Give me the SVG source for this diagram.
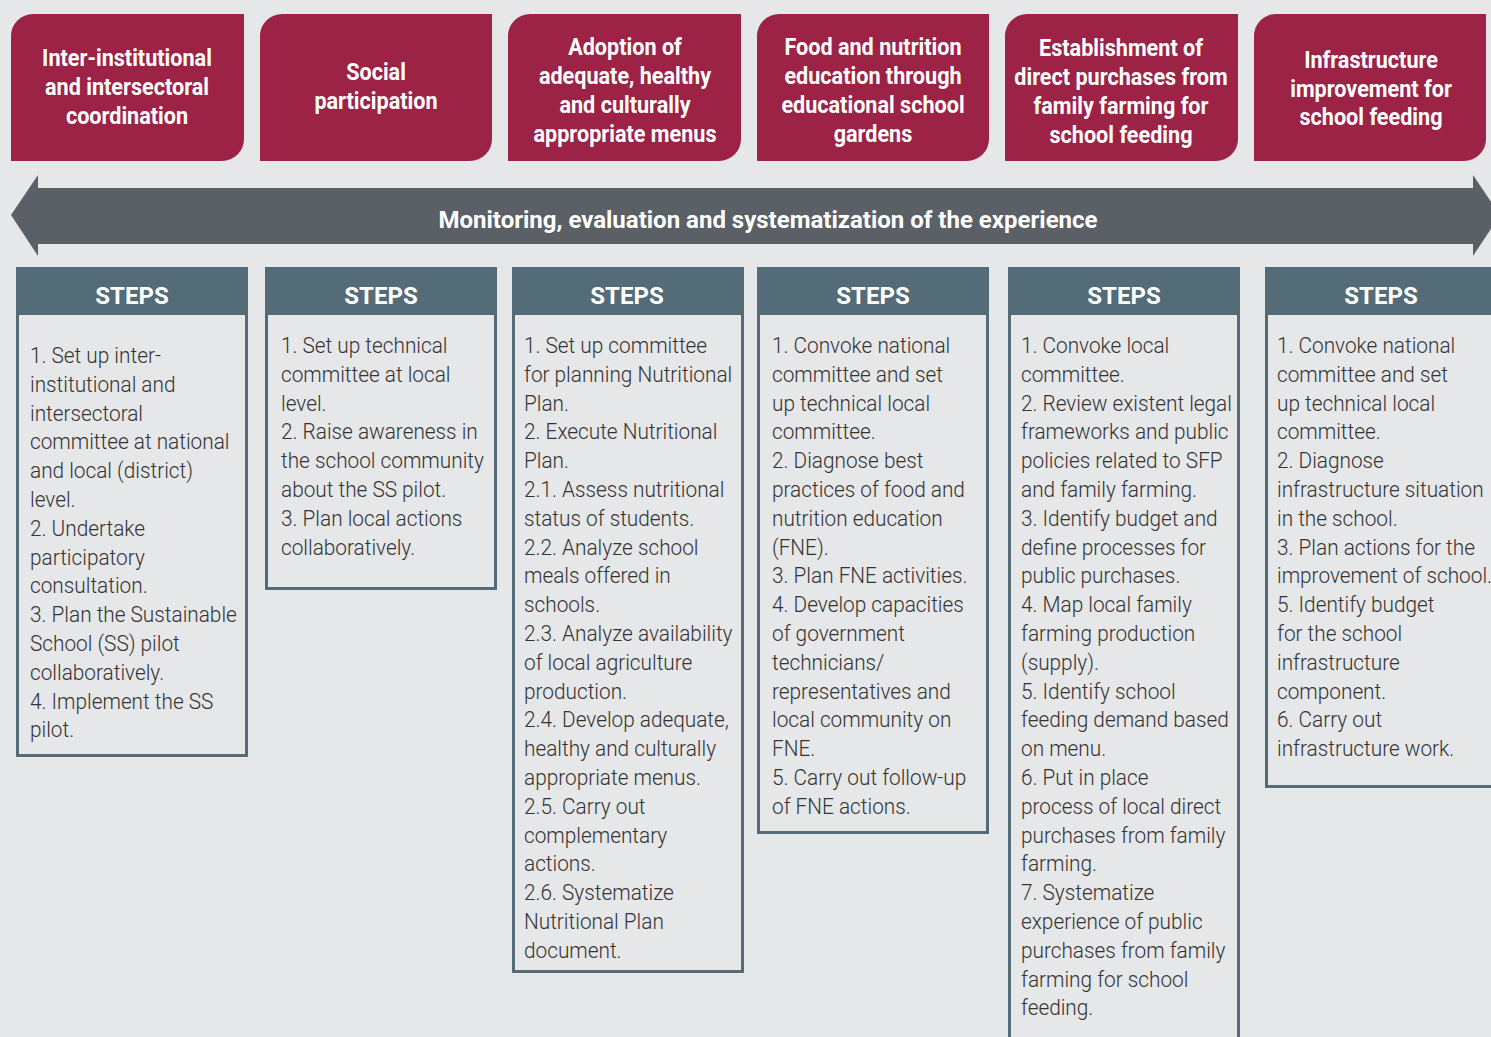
<svg xmlns="http://www.w3.org/2000/svg" width="1491" height="1037" viewBox="0 0 1491 1037">
<style>
.bg{fill:#e6e7e9}
.top{fill:#9c2246}
.toptxt{font-family:Roboto,"Liberation Sans",sans-serif;font-weight:700;font-size:24px;fill:#fff;text-anchor:middle}
.arrow{fill:#5b6067}
.arrtxt{font-family:Roboto,"Liberation Sans",sans-serif;font-weight:700;font-size:24px;fill:#fff;text-anchor:middle}
.hdr{fill:#536c78}
.box{fill:none;stroke:#536c78;stroke-width:3}
.hdrtxt{font-family:Roboto,"Liberation Sans",sans-serif;font-weight:700;font-size:24px;fill:#fff;text-anchor:middle}
.body{font-family:Roboto,"Liberation Sans",sans-serif;font-weight:300;font-size:22px;fill:#333}
</style>
<rect class="bg" x="0" y="0" width="1491" height="1037"/>

<g id="goal1">
<path class="top" d="M33,14 H244 V139 A22,22 0 0 1 222,161 H11 V36 A22,22 0 0 1 33,14 Z"/>
<text class="toptxt" transform="translate(127,0) scale(0.9,1)"><tspan x="0" y="66">Inter-institutional</tspan><tspan x="0" y="95">and intersectoral</tspan><tspan x="0" y="124">coordination</tspan></text>
</g>
<g id="goal2">
<path class="top" d="M282,14 H492 V139 A22,22 0 0 1 470,161 H260 V36 A22,22 0 0 1 282,14 Z"/>
<text class="toptxt" transform="translate(376,0) scale(0.9,1)"><tspan x="0" y="80">Social</tspan><tspan x="0" y="109">participation</tspan></text>
</g>
<g id="goal3">
<path class="top" d="M530,14 H741 V139 A22,22 0 0 1 719,161 H508 V36 A22,22 0 0 1 530,14 Z"/>
<text class="toptxt" transform="translate(625,0) scale(0.9,1)"><tspan x="0" y="55">Adoption of</tspan><tspan x="0" y="84">adequate, healthy</tspan><tspan x="0" y="113">and culturally</tspan><tspan x="0" y="142">appropriate menus</tspan></text>
</g>
<g id="goal4">
<path class="top" d="M779,14 H989 V139 A22,22 0 0 1 967,161 H757 V36 A22,22 0 0 1 779,14 Z"/>
<text class="toptxt" transform="translate(873,0) scale(0.9,1)"><tspan x="0" y="55">Food and nutrition</tspan><tspan x="0" y="84">education through</tspan><tspan x="0" y="113">educational school</tspan><tspan x="0" y="142">gardens</tspan></text>
</g>
<g id="goal5">
<path class="top" d="M1027,14 H1238 V139 A22,22 0 0 1 1216,161 H1005 V36 A22,22 0 0 1 1027,14 Z"/>
<text class="toptxt" transform="translate(1121,0) scale(0.9,1)"><tspan x="0" y="56">Establishment of</tspan><tspan x="0" y="85">direct purchases from</tspan><tspan x="0" y="114">family farming for</tspan><tspan x="0" y="143">school feeding</tspan></text>
</g>
<g id="goal6">
<path class="top" d="M1276,14 H1486 V139 A22,22 0 0 1 1464,161 H1254 V36 A22,22 0 0 1 1276,14 Z"/>
<text class="toptxt" transform="translate(1371,0) scale(0.9,1)"><tspan x="0" y="68">Infrastructure</tspan><tspan x="0" y="97">improvement for</tspan><tspan x="0" y="125">school feeding</tspan></text>
</g>

<g id="connectors">
<path class="arrow" d="M11,215 L38,175 V188 H1473 V175 L1500,215 L1473,256 V244 H38 V256 Z"/>
<text class="arrtxt" x="768" y="228">Monitoring, evaluation and systematization of the experience</text>
</g>

<g id="steps1">
<rect class="box" x="17.5" y="268.5" width="229" height="487"/>
<rect class="hdr" x="16" y="267" width="232" height="48"/>
<text class="hdrtxt" x="132" y="304">STEPS</text>
<text class="body" transform="translate(30,0) scale(0.945,1)"><tspan x="0" y="363">1. Set up inter-</tspan><tspan x="0" dy="28.8">institutional and</tspan><tspan x="0" dy="28.8">intersectoral</tspan><tspan x="0" dy="28.8">committee at national</tspan><tspan x="0" dy="28.8">and local (district)</tspan><tspan x="0" dy="28.8">level.</tspan><tspan x="0" dy="28.8">2. Undertake</tspan><tspan x="0" dy="28.8">participatory</tspan><tspan x="0" dy="28.8">consultation.</tspan><tspan x="0" dy="28.8">3. Plan the Sustainable</tspan><tspan x="0" dy="28.8">School (SS) pilot</tspan><tspan x="0" dy="28.8">collaboratively.</tspan><tspan x="0" dy="28.8">4. Implement the SS</tspan><tspan x="0" dy="28.8">pilot.</tspan></text>
</g>
<g id="steps2">
<rect class="box" x="266.5" y="268.5" width="229" height="320"/>
<rect class="hdr" x="265" y="267" width="232" height="48"/>
<text class="hdrtxt" x="381" y="304">STEPS</text>
<text class="body" transform="translate(281,0) scale(0.945,1)"><tspan x="0" y="353">1. Set up technical</tspan><tspan x="0" dy="28.8">committee at local</tspan><tspan x="0" dy="28.8">level.</tspan><tspan x="0" dy="28.8">2. Raise awareness in</tspan><tspan x="0" dy="28.8">the school community</tspan><tspan x="0" dy="28.8">about the SS pilot.</tspan><tspan x="0" dy="28.8">3. Plan local actions</tspan><tspan x="0" dy="28.8">collaboratively.</tspan></text>
</g>
<g id="steps3">
<rect class="box" x="513.5" y="268.5" width="229" height="703"/>
<rect class="hdr" x="512" y="267" width="232" height="48"/>
<text class="hdrtxt" x="627" y="304">STEPS</text>
<text class="body" transform="translate(524,0) scale(0.945,1)"><tspan x="0" y="353">1. Set up committee</tspan><tspan x="0" dy="28.8">for planning Nutritional</tspan><tspan x="0" dy="28.8">Plan.</tspan><tspan x="0" dy="28.8">2. Execute Nutritional</tspan><tspan x="0" dy="28.8">Plan.</tspan><tspan x="0" dy="28.8">2.1. Assess nutritional</tspan><tspan x="0" dy="28.8">status of students.</tspan><tspan x="0" dy="28.8">2.2. Analyze school</tspan><tspan x="0" dy="28.8">meals offered in</tspan><tspan x="0" dy="28.8">schools.</tspan><tspan x="0" dy="28.8">2.3. Analyze availability</tspan><tspan x="0" dy="28.8">of local agriculture</tspan><tspan x="0" dy="28.8">production.</tspan><tspan x="0" dy="28.8">2.4. Develop adequate,</tspan><tspan x="0" dy="28.8">healthy and culturally</tspan><tspan x="0" dy="28.8">appropriate menus.</tspan><tspan x="0" dy="28.8">2.5. Carry out</tspan><tspan x="0" dy="28.8">complementary</tspan><tspan x="0" dy="28.8">actions.</tspan><tspan x="0" dy="28.8">2.6. Systematize</tspan><tspan x="0" dy="28.8">Nutritional Plan</tspan><tspan x="0" dy="28.8">document.</tspan></text>
</g>
<g id="steps4">
<rect class="box" x="758.5" y="268.5" width="229" height="564"/>
<rect class="hdr" x="757" y="267" width="232" height="48"/>
<text class="hdrtxt" x="873" y="304">STEPS</text>
<text class="body" transform="translate(772,0) scale(0.945,1)"><tspan x="0" y="353">1. Convoke national</tspan><tspan x="0" dy="28.8">committee and set</tspan><tspan x="0" dy="28.8">up technical local</tspan><tspan x="0" dy="28.8">committee.</tspan><tspan x="0" dy="28.8">2. Diagnose best</tspan><tspan x="0" dy="28.8">practices of food and</tspan><tspan x="0" dy="28.8">nutrition education</tspan><tspan x="0" dy="28.8">(FNE).</tspan><tspan x="0" dy="28.8">3. Plan FNE activities.</tspan><tspan x="0" dy="28.8">4. Develop capacities</tspan><tspan x="0" dy="28.8">of government</tspan><tspan x="0" dy="28.8">technicians/</tspan><tspan x="0" dy="28.8">representatives and</tspan><tspan x="0" dy="28.8">local community on</tspan><tspan x="0" dy="28.8">FNE.</tspan><tspan x="0" dy="28.8">5. Carry out follow-up</tspan><tspan x="0" dy="28.8">of FNE actions.</tspan></text>
</g>
<g id="steps5">
<rect class="box" x="1009.5" y="268.5" width="229" height="800"/>
<rect class="hdr" x="1008" y="267" width="232" height="48"/>
<text class="hdrtxt" x="1124" y="304">STEPS</text>
<text class="body" transform="translate(1021,0) scale(0.945,1)"><tspan x="0" y="353">1. Convoke local</tspan><tspan x="0" dy="28.8">committee.</tspan><tspan x="0" dy="28.8">2. Review existent legal</tspan><tspan x="0" dy="28.8">frameworks and public</tspan><tspan x="0" dy="28.8">policies related to SFP</tspan><tspan x="0" dy="28.8">and family farming.</tspan><tspan x="0" dy="28.8">3. Identify budget and</tspan><tspan x="0" dy="28.8">define processes for</tspan><tspan x="0" dy="28.8">public purchases.</tspan><tspan x="0" dy="28.8">4. Map local family</tspan><tspan x="0" dy="28.8">farming production</tspan><tspan x="0" dy="28.8">(supply).</tspan><tspan x="0" dy="28.8">5. Identify school</tspan><tspan x="0" dy="28.8">feeding demand based</tspan><tspan x="0" dy="28.8">on menu.</tspan><tspan x="0" dy="28.8">6. Put in place</tspan><tspan x="0" dy="28.8">process of local direct</tspan><tspan x="0" dy="28.8">purchases from family</tspan><tspan x="0" dy="28.8">farming.</tspan><tspan x="0" dy="28.8">7. Systematize</tspan><tspan x="0" dy="28.8">experience of public</tspan><tspan x="0" dy="28.8">purchases from family</tspan><tspan x="0" dy="28.8">farming for school</tspan><tspan x="0" dy="28.8">feeding.</tspan></text>
</g>
<g id="steps6">
<rect class="box" x="1266.5" y="268.5" width="240" height="518"/>
<rect class="hdr" x="1265" y="267" width="240" height="48"/>
<text class="hdrtxt" x="1381" y="304">STEPS</text>
<text class="body" transform="translate(1277,0) scale(0.945,1)"><tspan x="0" y="353">1. Convoke national</tspan><tspan x="0" dy="28.8">committee and set</tspan><tspan x="0" dy="28.8">up technical local</tspan><tspan x="0" dy="28.8">committee.</tspan><tspan x="0" dy="28.8">2. Diagnose</tspan><tspan x="0" dy="28.8">infrastructure situation</tspan><tspan x="0" dy="28.8">in the school.</tspan><tspan x="0" dy="28.8">3. Plan actions for the</tspan><tspan x="0" dy="28.8">improvement of school.</tspan><tspan x="0" dy="28.8">5. Identify budget</tspan><tspan x="0" dy="28.8">for the school</tspan><tspan x="0" dy="28.8">infrastructure</tspan><tspan x="0" dy="28.8">component.</tspan><tspan x="0" dy="28.8">6. Carry out</tspan><tspan x="0" dy="28.8">infrastructure work.</tspan></text>
</g>
</svg>
